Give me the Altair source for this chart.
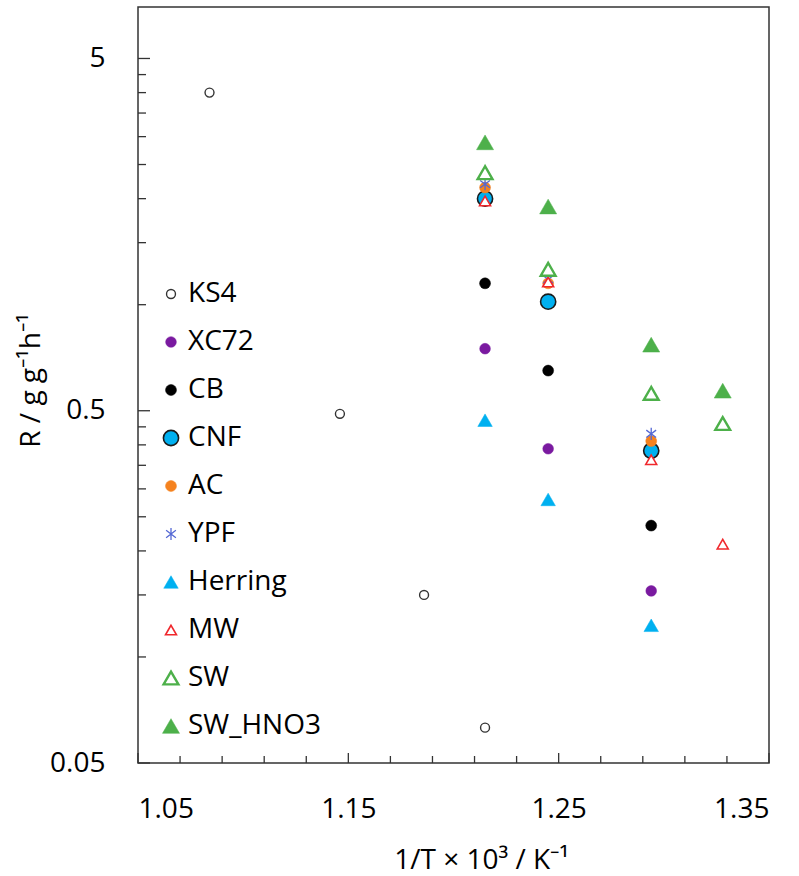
import altair as alt
import pandas as pd

# Reaction rate R (g g^-1 h^-1) against inverse temperature (1/T x 10^3, K^-1)
series_names = ["KS4", "XC72", "CB", "CNF", "AC", "YPF", "Herring", "MW", "SW", "SW_HNO3"]

inv_t_3 = [1.215, 1.245, 1.294]
inv_t_4 = [1.215, 1.245, 1.294, 1.328]

ks4_x = [1.084, 1.146, 1.186, 1.215]
ks4_r = [4.0, 0.49, 0.15, 0.063]
xc72_r = [0.75, 0.39, 0.154]
cb_r = [1.15, 0.65, 0.236]
cnf_r = [2.0, 1.02, 0.385]
ac_r = [2.15, 1.15, 0.41]
ypf_r = [2.2, 1.18, 0.43]
herring_r = [0.47, 0.28, 0.123]
mw_r = [1.97, 1.16, 0.363, 0.209]
sw_r = [2.37, 1.26, 0.56, 0.46]
sw_hno3_r = [2.89, 1.9, 0.77, 0.57]

# axis tick positions
x_major = [1.05, 1.15, 1.25, 1.35]
x_minor = [1.07, 1.09, 1.11, 1.13, 1.17, 1.19, 1.21, 1.23, 1.27, 1.29, 1.31, 1.33]
y_major = [0.05, 0.5, 5]
y_minor = [0.1, 0.15, 0.2, 0.25, 0.3, 0.35, 0.4, 0.45,
           1, 1.5, 2, 2.5, 3, 3.5, 4, 4.5]

# marker styling per series
shapes = ["circle", "circle", "circle", "circle", "circle",
          "M0,-1L0,1M-0.8,-0.6L0.8,0.6M-0.8,0.6L0.8,-0.6",
          "triangle-up", "triangle-up", "triangle-up", "triangle-up"]
fills = ["white", "#7A1AA0", "#000000", "#00B0F0", "#F5821F",
         "transparent", "#00B0F0", "white", "white", "#4DB04A"]
strokes = ["#333333", "#7A1AA0", "#000000", "#1a1a1a", "#F5821F",
           "#5468D4", "#00B0F0", "#F0282D", "#4DB04A", "#4DB04A"]
sizes = [80, 115, 120, 230, 120, 150, 210, 120, 220, 290]
stroke_widths = [1.4, 0.5, 0.5, 1.6, 0.5, 1.3, 0.5, 1.6, 2.4, 0.5]

columns = [
    ("KS4", ks4_x, ks4_r),
    ("XC72", inv_t_3, xc72_r),
    ("CB", inv_t_3, cb_r),
    ("CNF", inv_t_3, cnf_r),
    ("AC", inv_t_3, ac_r),
    ("YPF", inv_t_3, ypf_r),
    ("Herring", inv_t_3, herring_r),
    ("MW", inv_t_4, mw_r),
    ("SW", inv_t_4, sw_r),
    ("SW_HNO3", inv_t_4, sw_hno3_r),
]
rows = []
for name, xs, rs in columns:
    for xv, rv in zip(xs, rs):
        rows.append({"series": name, "invT": xv, "R": rv})
points_df = pd.DataFrame(rows)

W, H = 631, 756
FONT = "Open Sans"

x_scale = alt.Scale(domain=[1.05, 1.35], nice=False, zero=False)
y_scale = alt.Scale(type="log", domain=[0.05, 7], nice=False)

legend = alt.Legend(
    title=None, orient="none", legendX=19, legendY=273,
    labelFont=FONT, labelFontSize=28, labelColor="black",
    rowPadding=20, labelOffset=3, padding=0, labelLimit=0,
)

points = alt.Chart(points_df).mark_point(opacity=1).encode(
    x=alt.X("invT:Q", scale=x_scale,
            axis=alt.Axis(values=x_major, format=".2f", tickSize=0, domain=False, grid=False,
                          labelPadding=32, title="1/T × 10³ / K⁻¹",
                          titleX=343, titleY=105, titleAlign="center",
                          titleBaseline="alphabetic", titleFontSize=28)),
    y=alt.Y("R:Q", scale=y_scale,
            axis=alt.Axis(values=y_major, format="~g", tickSize=0, domain=False, grid=False,
                          labelPadding=33, title="R  / g g⁻¹h⁻¹",
                          titleX=-99, titleY=373, titleAlign="center",
                          titleBaseline="alphabetic", titleAngle=-90, titleFontSize=28)),
    shape=alt.Shape("series:N", scale=alt.Scale(domain=series_names, range=shapes), legend=legend),
    fill=alt.Fill("series:N", scale=alt.Scale(domain=series_names, range=fills), legend=legend),
    stroke=alt.Stroke("series:N", scale=alt.Scale(domain=series_names, range=strokes), legend=legend),
    size=alt.Size("series:N", scale=alt.Scale(type="ordinal", domain=series_names, range=sizes), legend=legend),
    strokeWidth=alt.StrokeWidth("series:N", scale=alt.Scale(type="ordinal", domain=series_names, range=stroke_widths), legend=legend),
)

# inward-pointing tick marks drawn through the same scales
y_major_ticks = alt.Chart(pd.DataFrame({"R": y_major})).mark_rule(color="#333333", strokeWidth=1.3).encode(
    y=alt.Y("R:Q", scale=y_scale), x=alt.value(0), x2=alt.value(12))
y_minor_ticks = alt.Chart(pd.DataFrame({"R": y_minor})).mark_rule(color="#333333", strokeWidth=1.3).encode(
    y=alt.Y("R:Q", scale=y_scale), x=alt.value(0), x2=alt.value(8))
x_major_ticks = alt.Chart(pd.DataFrame({"invT": x_major})).mark_rule(color="#333333", strokeWidth=1.3).encode(
    x=alt.X("invT:Q", scale=x_scale), y=alt.value(H), y2=alt.value(H - 10))
x_minor_ticks = alt.Chart(pd.DataFrame({"invT": x_minor})).mark_rule(color="#333333", strokeWidth=1.3).encode(
    x=alt.X("invT:Q", scale=x_scale), y=alt.value(H), y2=alt.value(H - 7))

chart = alt.layer(
    y_major_ticks, y_minor_ticks, x_major_ticks, x_minor_ticks, points
).properties(
    width=W, height=H,
    background="white",
    autosize=alt.AutoSizeParams(type="none"),
    padding={"left": 138, "top": 7, "right": 30, "bottom": 113},
).configure_view(
    stroke="#333333", strokeWidth=1.5
).configure_axis(
    labelFont=FONT, labelFontSize=28, labelColor="black",
    titleFont=FONT, titleFontSize=25, titleFontWeight="normal", titleColor="black",
)

chart.save("out.html", embed_options={"renderer": "svg", "actions": False})
